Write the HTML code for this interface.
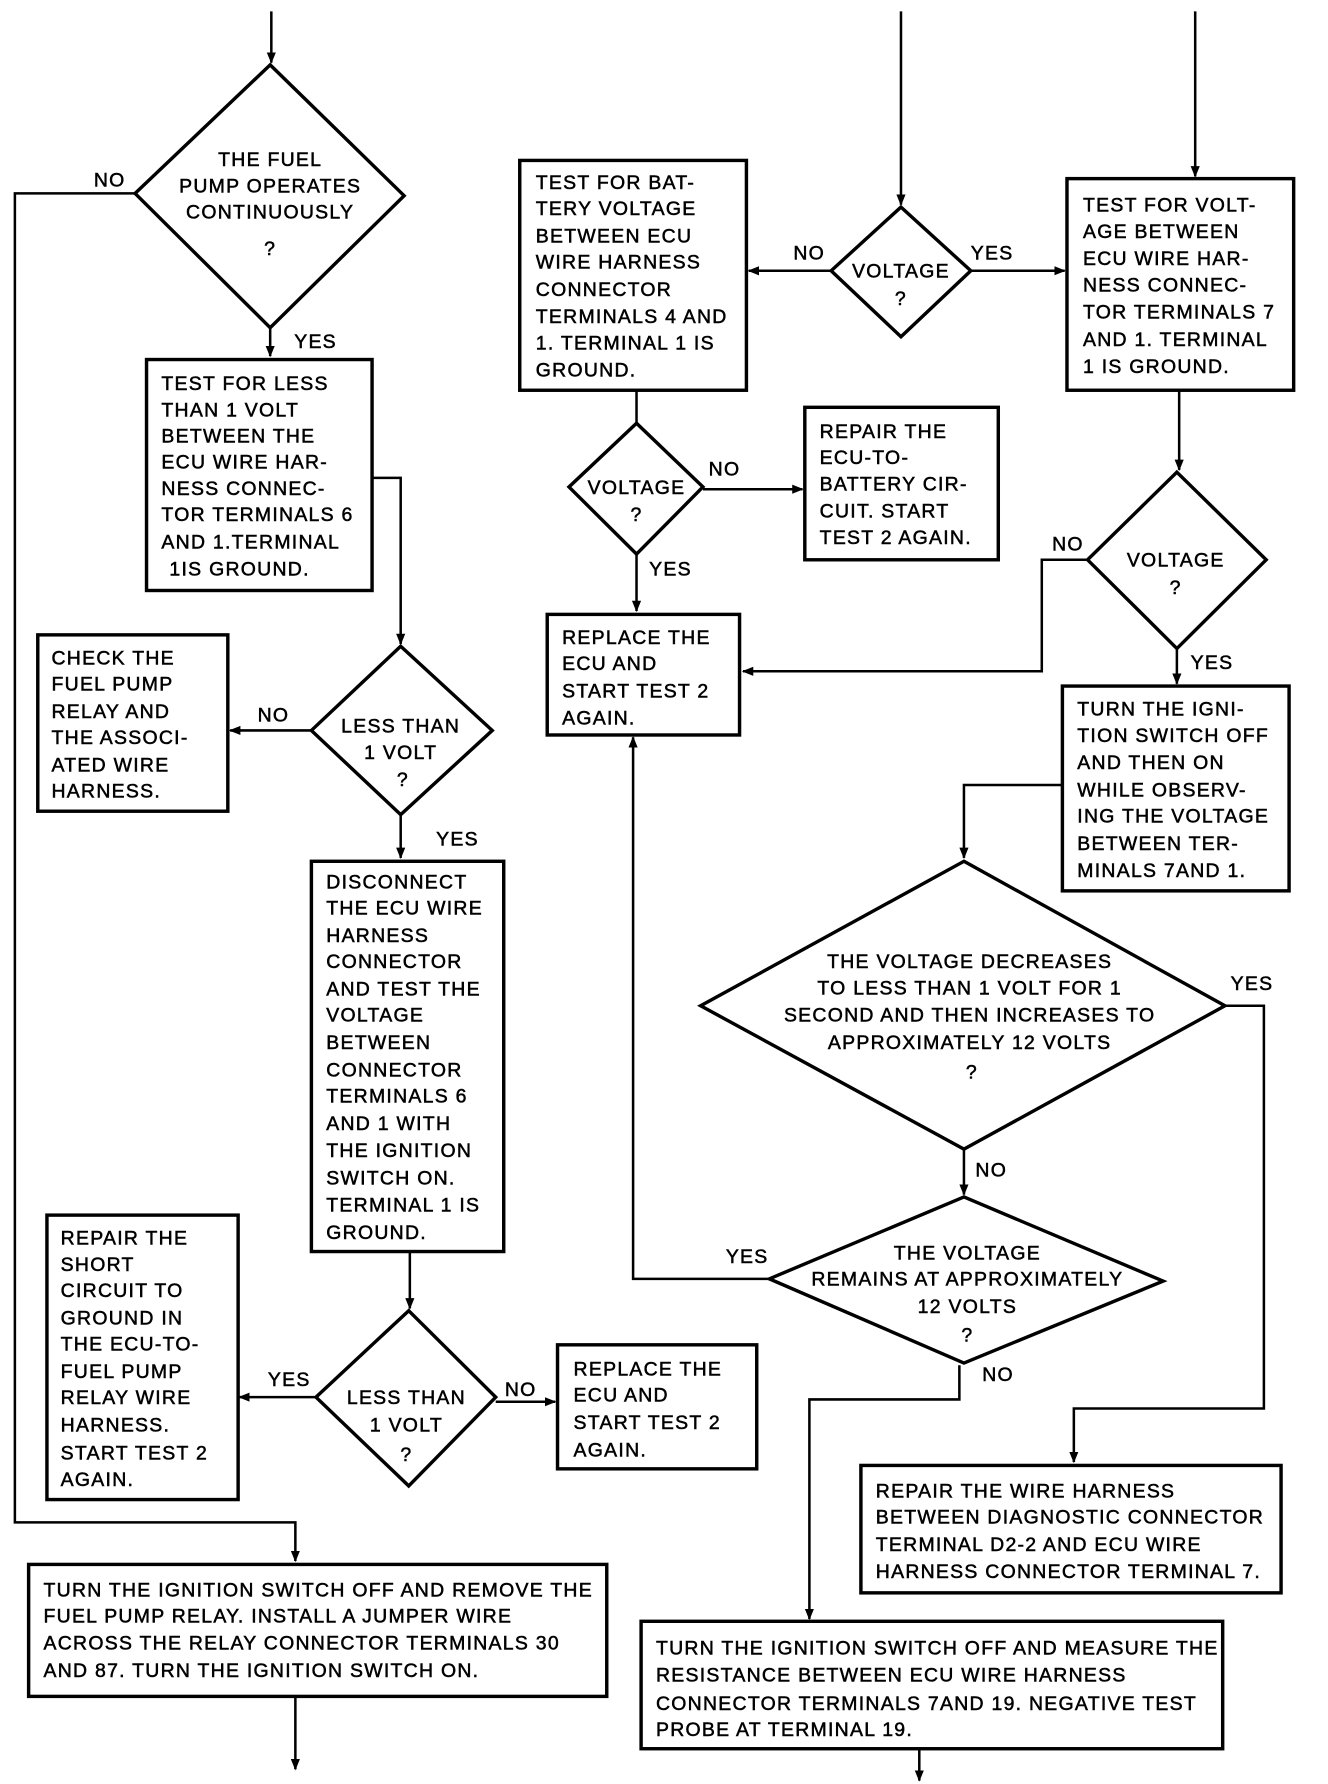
<!DOCTYPE html>
<html><head><meta charset="utf-8"><style>
html,body{margin:0;padding:0;background:#fff;}
svg{display:block;}
text{font-family:"Liberation Sans",sans-serif;font-size:17px;fill:#000;stroke:#000;stroke-width:0.45;letter-spacing:1.1px;}
.b{fill:#fff;stroke:#000;stroke-width:3;}
.l{fill:none;stroke:#000;stroke-width:2.2;}
</style></head><body>
<svg width="1328" height="1784" viewBox="0 0 1160 1568" preserveAspectRatio="none" xmlns="http://www.w3.org/2000/svg">
<defs><marker id="a" markerWidth="10" markerHeight="10" refX="9" refY="5" orient="auto" markerUnits="userSpaceOnUse"><path d="M0,1 L10,5 L0,9 Z" fill="#000"/></marker></defs>

<!-- LEFT COLUMN -->
<line class="l" x1="237" y1="10" x2="237" y2="55" marker-end="url(#a)"/>
<polygon class="b" points="236,57 353,172 236,288 118,170"/>
<g text-anchor="middle"><text x="236" y="146">THE FUEL</text><text x="236" y="169">PUMP OPERATES</text><text x="236" y="192">CONTINUOUSLY</text><text x="236" y="224">?</text></g>
<text x="82" y="164">NO</text>
<polyline class="l" points="118,170 13,170 13,1338 258,1338 258,1372" marker-end="url(#a)"/>
<text x="257" y="306">YES</text>
<line class="l" x1="236" y1="288" x2="236" y2="313" marker-end="url(#a)"/>
<rect class="b" x="128" y="316" width="197" height="203"/>
<g><text x="141" y="343">TEST FOR LESS</text><text x="141" y="366">THAN 1 VOLT</text><text x="141" y="389">BETWEEN THE</text><text x="141" y="412">ECU WIRE HAR-</text><text x="141" y="435">NESS CONNEC-</text><text x="141" y="458">TOR TERMINALS 6</text><text x="141" y="482">AND 1.TERMINAL</text><text x="148" y="506">1IS GROUND.</text></g>
<polyline class="l" points="325,420 350,420 350,566" marker-end="url(#a)"/>
<polygon class="b" points="350,568 430,642 350,716 272,642"/>
<g text-anchor="middle"><text x="350" y="644">LESS THAN</text><text x="350" y="667">1 VOLT</text><text x="352" y="691">?</text></g>
<text x="225" y="634">NO</text>
<line class="l" x1="272" y1="642" x2="201" y2="642" marker-end="url(#a)"/>
<rect class="b" x="33" y="558" width="166" height="155"/>
<g><text x="45" y="584">CHECK THE</text><text x="45" y="607">FUEL PUMP</text><text x="45" y="631">RELAY AND</text><text x="45" y="654">THE ASSOCI-</text><text x="45" y="678">ATED WIRE</text><text x="45" y="701">HARNESS.</text></g>
<text x="381" y="743">YES</text>
<line class="l" x1="350" y1="716" x2="350" y2="754" marker-end="url(#a)"/>
<rect class="b" x="272" y="757" width="168" height="343"/>
<g><text x="285" y="781">DISCONNECT</text><text x="285" y="804">THE ECU WIRE</text><text x="285" y="828">HARNESS</text><text x="285" y="851">CONNECTOR</text><text x="285" y="875">AND TEST THE</text><text x="285" y="898">VOLTAGE</text><text x="285" y="922">BETWEEN</text><text x="285" y="946">CONNECTOR</text><text x="285" y="969">TERMINALS 6</text><text x="285" y="993">AND 1 WITH</text><text x="285" y="1017">THE IGNITION</text><text x="285" y="1041">SWITCH ON.</text><text x="285" y="1065">TERMINAL 1 IS</text><text x="285" y="1089">GROUND.</text></g>
<line class="l" x1="358" y1="1100" x2="358" y2="1150" marker-end="url(#a)"/>
<polygon class="b" points="357,1152 433,1228 357,1306 276,1228"/>
<g text-anchor="middle"><text x="355" y="1234">LESS THAN</text><text x="355" y="1258">1 VOLT</text><text x="355" y="1284">?</text></g>
<text x="234" y="1218">YES</text>
<line class="l" x1="276" y1="1228" x2="209" y2="1228" marker-end="url(#a)"/>
<rect class="b" x="41" y="1068" width="167" height="250"/>
<g><text x="53" y="1094">REPAIR THE</text><text x="53" y="1117">SHORT</text><text x="53" y="1140">CIRCUIT TO</text><text x="53" y="1164">GROUND IN</text><text x="53" y="1187">THE ECU-TO-</text><text x="53" y="1211">FUEL PUMP</text><text x="53" y="1234">RELAY WIRE</text><text x="53" y="1258">HARNESS.</text><text x="53" y="1283">START TEST 2</text><text x="53" y="1306">AGAIN.</text></g>
<text x="441" y="1227">NO</text>
<line class="l" x1="433" y1="1232" x2="485" y2="1232" marker-end="url(#a)"/>
<rect class="b" x="487" y="1182" width="174" height="109"/>
<g><text x="501" y="1209">REPLACE THE</text><text x="501" y="1232">ECU AND</text><text x="501" y="1256">START TEST 2</text><text x="501" y="1280">AGAIN.</text></g>
<rect class="b" x="25" y="1375" width="505" height="116"/>
<g><text x="38" y="1403">TURN THE IGNITION SWITCH OFF AND REMOVE THE</text><text x="38" y="1426">FUEL PUMP RELAY. INSTALL A JUMPER WIRE</text><text x="38" y="1450">ACROSS THE RELAY CONNECTOR TERMINALS 30</text><text x="38" y="1474">AND 87. TURN THE IGNITION SWITCH ON.</text></g>
<line class="l" x1="258" y1="1491" x2="258" y2="1555" marker-end="url(#a)"/>

<!-- MIDDLE -->
<line class="l" x1="787" y1="10" x2="787" y2="180" marker-end="url(#a)"/>
<polygon class="b" points="787,182 848,238 787,296 726,238"/>
<g text-anchor="middle"><text x="787" y="244">VOLTAGE</text><text x="787" y="268">?</text></g>
<text x="693" y="228">NO</text>
<line class="l" x1="726" y1="238" x2="654" y2="238" marker-end="url(#a)"/>
<text x="848" y="228">YES</text>
<line class="l" x1="848" y1="238" x2="930" y2="238" marker-end="url(#a)"/>
<rect class="b" x="454" y="141" width="198" height="202"/>
<g><text x="468" y="166">TEST FOR BAT-</text><text x="468" y="189">TERY VOLTAGE</text><text x="468" y="213">BETWEEN ECU</text><text x="468" y="236">WIRE HARNESS</text><text x="468" y="260">CONNECTOR</text><text x="468" y="284">TERMINALS 4 AND</text><text x="468" y="307">1. TERMINAL 1 IS</text><text x="468" y="331">GROUND.</text></g>
<line class="l" x1="556" y1="343" x2="556" y2="372"/>
<polygon class="b" points="556,372 614,428 556,487 497,428"/>
<g text-anchor="middle"><text x="556" y="434">VOLTAGE</text><text x="556" y="458">?</text></g>
<text x="619" y="418">NO</text>
<line class="l" x1="614" y1="430" x2="701" y2="430" marker-end="url(#a)"/>
<rect class="b" x="703" y="358" width="169" height="134"/>
<g><text x="716" y="385">REPAIR THE</text><text x="716" y="408">ECU-TO-</text><text x="716" y="431">BATTERY CIR-</text><text x="716" y="455">CUIT. START</text><text x="716" y="478">TEST 2 AGAIN.</text></g>
<text x="567" y="506">YES</text>
<line class="l" x1="556" y1="487" x2="556" y2="537" marker-end="url(#a)"/>
<rect class="b" x="478" y="540" width="168" height="106"/>
<g><text x="491" y="566">REPLACE THE</text><text x="491" y="589">ECU AND</text><text x="491" y="613">START TEST 2</text><text x="491" y="637">AGAIN.</text></g>

<!-- RIGHT -->
<line class="l" x1="1044" y1="10" x2="1044" y2="155" marker-end="url(#a)"/>
<rect class="b" x="932" y="157" width="198" height="186"/>
<g><text x="946" y="186">TEST FOR VOLT-</text><text x="946" y="209">AGE BETWEEN</text><text x="946" y="233">ECU WIRE HAR-</text><text x="946" y="256">NESS CONNEC-</text><text x="946" y="280">TOR TERMINALS 7</text><text x="946" y="304">AND 1. TERMINAL</text><text x="946" y="328">1 IS GROUND.</text></g>
<line class="l" x1="1030" y1="343" x2="1030" y2="413" marker-end="url(#a)"/>
<polygon class="b" points="1028,415 1106,492 1028,570 950,492"/>
<g text-anchor="middle"><text x="1027" y="498">VOLTAGE</text><text x="1027" y="522">?</text></g>
<text x="919" y="484">NO</text>
<polyline class="l" points="950,492 910,492 910,590 649,590" marker-end="url(#a)"/>
<text x="1040" y="588">YES</text>
<line class="l" x1="1028" y1="570" x2="1028" y2="601" marker-end="url(#a)"/>
<rect class="b" x="928" y="603" width="198" height="180"/>
<g><text x="941" y="629">TURN THE IGNI-</text><text x="941" y="652">TION SWITCH OFF</text><text x="941" y="676">AND THEN ON</text><text x="941" y="700">WHILE OBSERV-</text><text x="941" y="723">ING THE VOLTAGE</text><text x="941" y="747">BETWEEN TER-</text><text x="941" y="771">MINALS 7AND 1.</text></g>
<polyline class="l" points="928,690 842,690 842,754" marker-end="url(#a)"/>
<polygon class="b" points="842,757 1070,884 842,1010 612,884"/>
<g text-anchor="middle"><text x="847" y="851">THE VOLTAGE DECREASES</text><text x="847" y="874">TO LESS THAN 1 VOLT FOR 1</text><text x="847" y="898">SECOND AND THEN INCREASES TO</text><text x="847" y="922">APPROXIMATELY 12 VOLTS</text><text x="849" y="948">?</text></g>
<text x="1075" y="870">YES</text>
<polyline class="l" points="1070,884 1104,884 1104,1238 938,1238 938,1285" marker-end="url(#a)"/>
<text x="852" y="1034">NO</text>
<line class="l" x1="842" y1="1010" x2="842" y2="1050" marker-end="url(#a)"/>
<polygon class="b" points="842,1052 1016,1126 842,1198 672,1124"/>
<g text-anchor="middle"><text x="845" y="1107">THE VOLTAGE</text><text x="845" y="1130">REMAINS AT APPROXIMATELY</text><text x="845" y="1154">12 VOLTS</text><text x="845" y="1179">?</text></g>
<text x="634" y="1110">YES</text>
<polyline class="l" points="672,1124 553,1124 553,648" marker-end="url(#a)"/>
<text x="858" y="1214">NO</text>
<polyline class="l" points="838,1200 838,1230 707,1230 707,1423" marker-end="url(#a)"/>
<rect class="b" x="752" y="1288" width="367" height="112"/>
<g><text x="765" y="1316">REPAIR THE WIRE HARNESS</text><text x="765" y="1339">BETWEEN DIAGNOSTIC CONNECTOR</text><text x="765" y="1363">TERMINAL D2-2 AND ECU WIRE</text><text x="765" y="1387">HARNESS CONNECTOR TERMINAL 7.</text></g>
<rect class="b" x="560" y="1425" width="508" height="112"/>
<g><text x="573" y="1454">TURN THE IGNITION SWITCH OFF AND MEASURE THE</text><text x="573" y="1478">RESISTANCE BETWEEN ECU WIRE HARNESS</text><text x="573" y="1503">CONNECTOR TERMINALS 7AND 19. NEGATIVE TEST</text><text x="573" y="1526">PROBE AT TERMINAL 19.</text></g>
<line class="l" x1="803" y1="1537" x2="803" y2="1565" marker-end="url(#a)"/>
</svg>
</body></html>
